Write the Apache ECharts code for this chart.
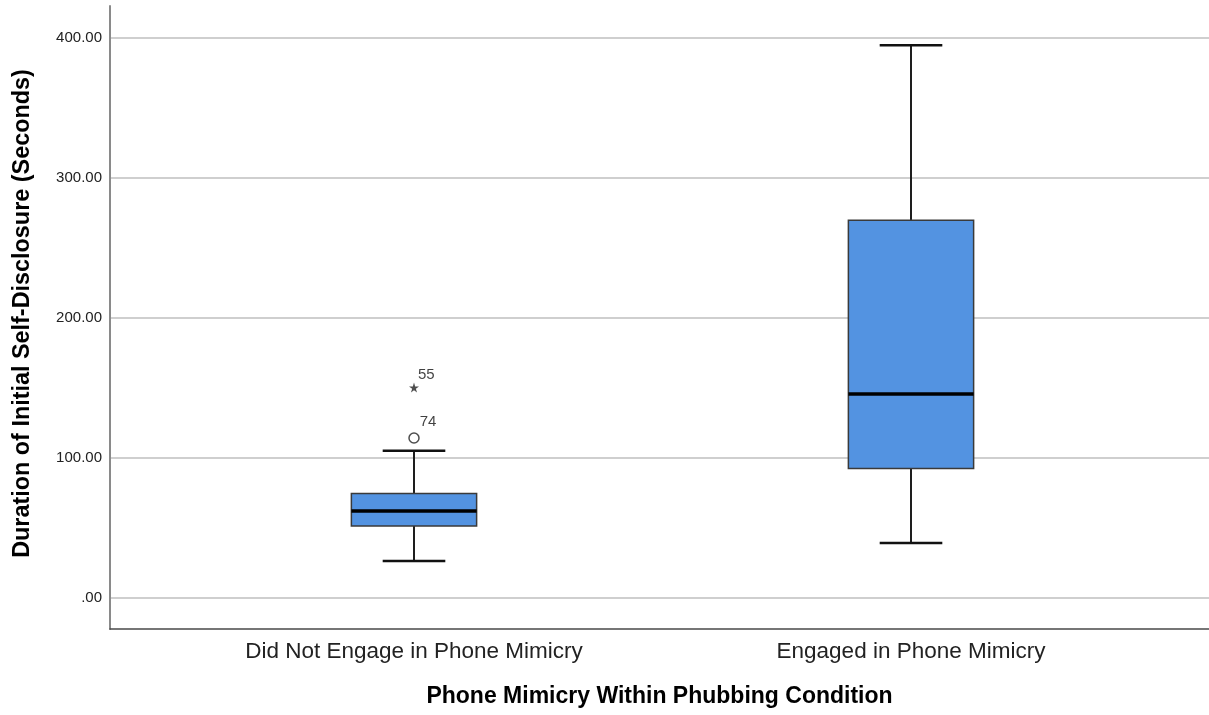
<!DOCTYPE html>
<html>
<head>
<meta charset="utf-8">
<script src="https://cdn.jsdelivr.net/npm/echarts@6/dist/echarts.min.js"></script>
<style>
html,body{margin:0;padding:0;background:#fff;}
#chart{width:1209px;height:715px;}
</style>
</head>
<body>
<div id="chart"></div>
<script>
// ---- data ----
var categories = ['Did Not Engage in Phone Mimicry', 'Engaged in Phone Mimicry'];
// [min whisker, Q1, median, Q3, max whisker]
var lowWhisker = [26.3, 39.1];
var q1Values = [51.3, 92.3];
var medianValues = [62.0, 145.4];
var q3Values = [74.4, 269.6];
var highWhisker = [104.9, 394.4];
// outliers: [category index, value, case label]
var outlierCircles = [[0, 114.1, '74']];
var outlierStars = [[0, 150.1, '55']];
var yMin = -22.3, yMax = 422.5;
var xTitle = 'Phone Mimicry Within Phubbing Condition';
var yTitle = 'Duration of Initial Self-Disclosure (Seconds)';

var boxData = categories.map(function (c, i) {
  return [i, lowWhisker[i], q1Values[i], medianValues[i], q3Values[i], highWhisker[i]];
});

var chart = echarts.init(document.getElementById('chart'), null, {renderer: 'canvas'});
var FONT = '"Liberation Sans", Arial, sans-serif';

function yLabel(v) {
  if (Math.abs(v % 100) > 1e-6) return '';
  return v === 0 ? '.00' : v.toFixed(2);
}

var option = {
  backgroundColor: '#ffffff',
  animation: false,
  grid: [
    {left: 110, right: 0, top: 6, bottom: 86},
    {left: 165.5, right: 49.5, top: 6, bottom: 86}
  ],
  xAxis: [
    {
      gridIndex: 0, type: 'value', min: 0, max: 1,
      axisLine: {show: true, onZero: false, lineStyle: {color: '#4a4a4a', width: 1.5}},
      axisTick: {show: false}, axisLabel: {show: false}, splitLine: {show: false},
      name: xTitle, nameLocation: 'middle', nameGap: 56,
      nameTextStyle: {fontFamily: FONT, fontSize: 23, fontWeight: 'bold', color: '#000'}
    },
    {
      gridIndex: 1, type: 'category', data: categories,
      axisLine: {show: false}, axisTick: {show: false}, splitLine: {show: false},
      axisLabel: {fontFamily: FONT, fontSize: 22.5, color: '#222', margin: 11}
    }
  ],
  yAxis: [
    {
      gridIndex: 0, type: 'value', min: yMin, max: yMax,
      axisLine: {show: true, lineStyle: {color: '#8a8a8a', width: 2}},
      axisTick: {show: false},
      axisLabel: {fontFamily: FONT, fontSize: 15, color: '#222', margin: 8, formatter: yLabel,
                  showMinLabel: false, showMaxLabel: false},
      splitLine: {show: true, showMinLine: false, showMaxLine: false,
                  lineStyle: {color: '#cfcfcf', width: 2}},
      name: yTitle, nameLocation: 'middle', nameGap: 76, nameRotate: 90,
      nameTextStyle: {fontFamily: FONT, fontSize: 23.4, fontWeight: 'bold', color: '#000',
                      padding: [0, 0, 0, 8]}
    },
    {
      gridIndex: 1, type: 'value', min: yMin, max: yMax, show: false,
      splitLine: {show: false}
    }
  ],
  series: [
    {
      type: 'custom',
      xAxisIndex: 1, yAxisIndex: 1,
      data: boxData,
      encode: {x: 0, y: [1, 2, 3, 4, 5]},
      renderItem: function (params, api) {
        var idx = api.value(0);
        var pLo = api.coord([idx, api.value(1)]);
        var pQ1 = api.coord([idx, api.value(2)]);
        var pMed = api.coord([idx, api.value(3)]);
        var pQ3 = api.coord([idx, api.value(4)]);
        var pHi = api.coord([idx, api.value(5)]);
        var band = api.size([1, 0])[0];
        var bw = band * 0.252;
        var cw = bw / 2;
        var cx = pMed[0];
        var wStyle = {stroke: '#1e1e1e', lineWidth: 2};
        var capStyle = {stroke: '#111', lineWidth: 2.5};
        return {
          type: 'group',
          children: [
            {type: 'line', shape: {x1: cx, y1: pLo[1], x2: cx, y2: pQ1[1]}, style: wStyle},
            {type: 'line', shape: {x1: cx, y1: pQ3[1], x2: cx, y2: pHi[1]}, style: wStyle},
            {type: 'line', shape: {x1: cx - cw / 2, y1: pLo[1], x2: cx + cw / 2, y2: pLo[1]}, style: capStyle},
            {type: 'line', shape: {x1: cx - cw / 2, y1: pHi[1], x2: cx + cw / 2, y2: pHi[1]}, style: capStyle},
            {type: 'rect', shape: {x: cx - bw / 2, y: pQ3[1], width: bw, height: pQ1[1] - pQ3[1]},
             style: {fill: '#5393e1', stroke: '#3a3a3a', lineWidth: 1.5}},
            {type: 'line', shape: {x1: cx - bw / 2, y1: pMed[1], x2: cx + bw / 2, y2: pMed[1]},
             style: {stroke: '#000', lineWidth: 3.5}}
          ]
        };
      }
    },
    {
      type: 'scatter',
      xAxisIndex: 1, yAxisIndex: 1,
      data: outlierCircles,
      symbol: 'circle', symbolSize: 10,
      itemStyle: {color: '#fff', borderColor: '#222', borderWidth: 1.5},
      label: {show: true, formatter: function (p) { return p.data[2]; },
              position: 'right', offset: [-5, -16], fontFamily: FONT, fontSize: 15, color: '#111'}
    },
    {
      type: 'scatter',
      xAxisIndex: 1, yAxisIndex: 1,
      data: outlierStars,
      symbol: 'path://M50,0 L61,35 L98,35 L68,57 L79,91 L50,70 L21,91 L32,57 L2,35 L39,35 Z',
      symbolSize: 10,
      itemStyle: {color: '#222'},
      label: {show: true, formatter: function (p) { return p.data[2]; },
              position: 'right', offset: [-6, -13], fontFamily: FONT, fontSize: 15, color: '#111'}
    }
  ]
};
chart.setOption(option);
</script>
</body>
</html>
